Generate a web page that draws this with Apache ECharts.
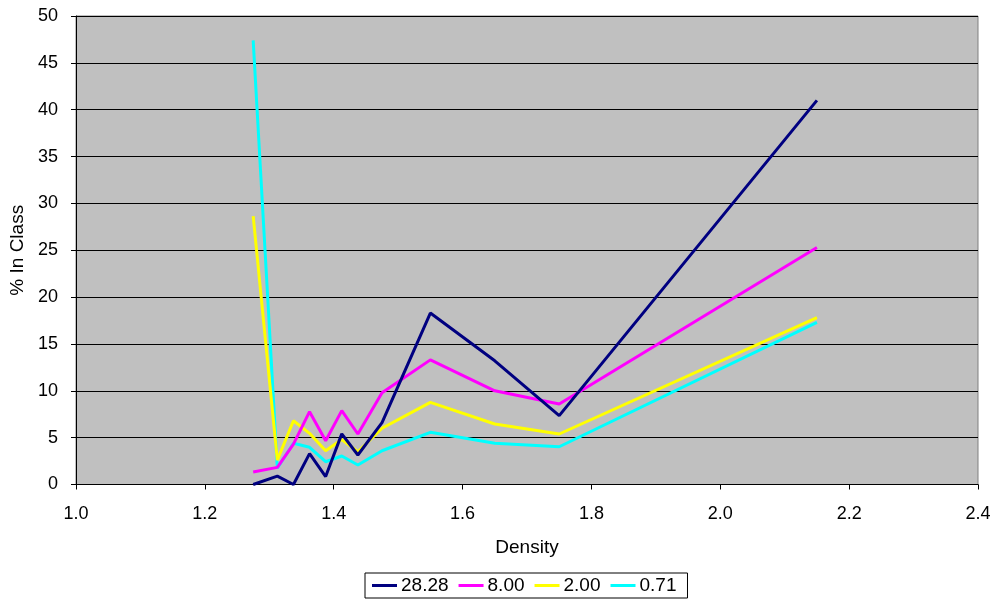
<!DOCTYPE html>
<html><head><meta charset="utf-8">
<script src="https://cdn.jsdelivr.net/npm/echarts@6/dist/echarts.min.js"></script>
<style>html,body{margin:0;padding:0;background:#fff}#c{width:995px;height:601px}</style>
</head><body><div id="c"></div>
<script>
const density = [1.275, 1.3125, 1.3375, 1.3625, 1.3875, 1.4125, 1.4375, 1.475, 1.55, 1.65, 1.75, 2.15];
const s2828 = [0, 0.9, 0, 3.3, 0.85, 5.4, 3.15, 6.6, 18.3, 13.2, 7.35, 41.0];
const s800  = [1.33, 1.83, 4.3, 7.77, 4.67, 7.88, 5.39, 9.8, 13.3, 10.0, 8.6, 25.3];
const s200  = [28.65, 2.6, 6.8, 5.46, 3.6, 4.8, 3.5, 6.0, 8.77, 6.46, 5.39, 17.8];
const s071  = [47.4, 1.73, 4.4, 3.97, 2.43, 3.04, 2.08, 3.6, 5.57, 4.4, 4.03, 17.3];
const seriesNames = ['28.28', '8.00', '2.00', '0.71'];
const seriesColors = ['#000080', '#FF00FF', '#FFFF00', '#00FFFF'];
const seriesData = [s2828, s800, s200, s071];

const font = 'Liberation Sans, Arial, sans-serif';
const chart = echarts.init(document.getElementById('c'));
chart.setOption({
  animation: false,
  grid: {left: 76, right: 17, top: 16, bottom: 116.5, show: true, backgroundColor: '#C0C0C0', borderColor: '#808080', borderWidth: 1},
  xAxis: {
    type: 'value', min: 1.0, max: 2.4, interval: 0.2,
    name: 'Density', nameLocation: 'middle', nameGap: 54,
    nameTextStyle: {fontFamily: font, fontSize: 19, color: '#000'},
    axisLine: {show: true, onZero: false, lineStyle: {color: '#000', width: 1}},
    axisTick: {show: true, length: 5, lineStyle: {color: '#000'}},
    axisLabel: {fontFamily: font, fontSize: 18, color: '#000', margin: 21, formatter: v => v.toFixed(1)},
    splitLine: {show: false}
  },
  yAxis: {
    type: 'value', min: 0, max: 50, interval: 5,
    name: '% In Class', nameLocation: 'middle', nameGap: 48,
    nameTextStyle: {fontFamily: font, fontSize: 19, color: '#000'},
    axisLine: {show: true, lineStyle: {color: '#000', width: 1}},
    axisTick: {show: true, length: 5, lineStyle: {color: '#000'}},
    axisLabel: {fontFamily: font, fontSize: 18, color: '#000', margin: 18},
    splitLine: {show: true, lineStyle: {color: '#000', width: 1}}
  },
  legend: {
    left: 365, top: 573,
    borderColor: '#000', borderWidth: 1, padding: [3, 11, 3, 7],
    itemGap: 10, itemWidth: 25, itemHeight: 3, icon: 'rect',
    textStyle: {fontFamily: font, fontSize: 19, color: '#000', padding: [0, 0, 0, -1]},
    data: seriesNames
  },
  series: seriesData.map((d, i) => ({
    name: seriesNames[i], type: 'line', showSymbol: false, symbol: 'none',
    data: density.map((x, j) => [x, d[j]]),
    lineStyle: {color: seriesColors[i], width: 3},
    itemStyle: {color: seriesColors[i]},
    z: 10 - i
  }))
});
</script></body></html>
